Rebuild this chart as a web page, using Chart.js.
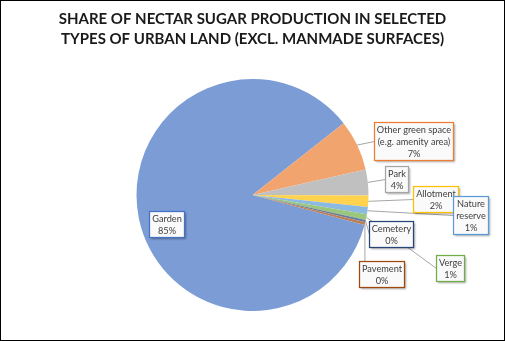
<!DOCTYPE html>
<html>
<head>
<meta charset="utf-8">
<script src="https://cdn.jsdelivr.net/npm/chart.js@4.4.0/dist/chart.umd.min.js"></script>
<style>
    html, body { margin: 0; padding: 0; background: #fff; }
    #marco { width: 503px; height: 339px; border: 1px solid #000; position: relative; }
</style>
</head>
<body>
<div id="marco"><canvas id="grafico-nectar"></canvas></div>
<script>
// Datos del gráfico (porcentaje de azúcar de néctar por tipo de suelo)
const categorias = ['Garden', ['Other green space', '(e.g. amenity area)'], 'Park', 'Allotment',
    ['Nature', 'reserve'], 'Verge', 'Cemetery', 'Pavement'];
const valores = [85.2, 7.1, 3.6, 1.6, 1.0, 0.8, 0.3, 0.4];

// Colores de los sectores y de los bordes de las etiquetas
const coloresSector = ['#7C9CD6', '#F2A46F', '#C0C0C0', '#FFD34D', '#8CB9E2', '#9BC67E', '#677CA1', '#BB7F56'];
const coloresBorde = ['#4472C4', '#ED7D31', '#A5A5A5', '#FFC000', '#5B9BD5', '#70AD47', '#264478', '#9E480E'];

// Desplazamiento de cada etiqueta respecto al centro del gráfico
const posicionEtiqueta = [[-86, 29], [161, -54], [144, -16], [183, 4], [218, 20], [197, 73], [138, 39], [129, 79]];

const fuenteEtiqueta = '9.2px Lato, "Liberation Sans", sans-serif';

// Etiquetas con recuadro y línea guía, al estilo de Excel
const etiquetasPlugin = {
    id: 'etiquetasCallout',
    afterDatasetsDraw(chart) {
        const ctx = chart.ctx;
        const meta = chart.getDatasetMeta(0);
        const total = valores.reduce((a, b) => a + b, 0);
        ctx.save();
        ctx.font = fuenteEtiqueta;

        const cajas = meta.data.map((arco, i) => {
            const p = arco.getProps(['x', 'y', 'startAngle', 'endAngle', 'outerRadius'], true);
            const medio = (p.startAngle + p.endAngle) / 2;
            const ancla = { x: p.x + Math.cos(medio) * p.outerRadius, y: p.y + Math.sin(medio) * p.outerRadius };
            const lineas = [].concat(categorias[i], Math.round(valores[i] / total * 100) + '%');
            const ancho = Math.round(Math.max(...lineas.map(l => ctx.measureText(l).width)) + 5);
            const alto = lineas.length * 12 + 2;
            const cx = p.x + posicionEtiqueta[i][0];
            const cy = p.y + posicionEtiqueta[i][1];
            return { i, ancla, lineas, x0: Math.round(cx - ancho / 2) + 0.5, y0: Math.round(cy - alto / 2) + 0.5, ancho, alto };
        });

        // Líneas guía (debajo de los recuadros)
        ctx.strokeStyle = '#A6A6A6';
        ctx.lineWidth = 1;
        cajas.forEach(c => {
            if (c.i === 0) return;
            let fin;
            if (c.ancla.x >= c.x0 && c.ancla.x <= c.x0 + c.ancho) {
                fin = { x: c.ancla.x, y: c.y0 };
            } else {
                fin = { x: c.x0, y: c.y0 + c.alto / 2 };
            }
            ctx.beginPath();
            ctx.moveTo(c.ancla.x, c.ancla.y);
            ctx.lineTo(fin.x, fin.y);
            ctx.stroke();
        });

        // Recuadros con texto
        cajas.forEach(c => {
            ctx.save();
            ctx.shadowColor = 'rgba(0,0,0,0.35)';
            ctx.shadowBlur = 2;
            ctx.shadowOffsetX = 1.5;
            ctx.shadowOffsetY = 1.5;
            ctx.fillStyle = '#FAFAFA';
            ctx.fillRect(c.x0, c.y0, c.ancho, c.alto);
            ctx.restore();
            ctx.strokeStyle = coloresBorde[c.i];
            ctx.lineWidth = 1.25;
            ctx.strokeRect(c.x0, c.y0, c.ancho, c.alto);
            ctx.fillStyle = '#404040';
            ctx.textAlign = 'center';
            ctx.textBaseline = 'middle';
            c.lineas.forEach((l, k) => {
                ctx.fillText(l, c.x0 + c.ancho / 2, c.y0 + 7.5 + k * 12);
            });
        });
        ctx.restore();
    }
};

const ctx = document.getElementById('grafico-nectar').getContext('2d');
new Chart(ctx, {
    type: 'pie',
    data: {
        labels: categorias,
        datasets: [{
            data: valores,
            backgroundColor: coloresSector,
            borderWidth: 0
        }]
    },
    options: {
        responsive: true,
        maintainAspectRatio: false,
        animation: false,
        rotation: 105,
        layout: { padding: { top: 0, bottom: 29, left: 0, right: 0 } },
        plugins: {
            legend: { display: false },
            tooltip: { enabled: false },
            title: {
                display: true,
                text: ['SHARE OF NECTAR SUGAR PRODUCTION IN SELECTED', 'TYPES OF URBAN LAND (EXCL. MANMADE SURFACES)'],
                color: '#1A1A1A',
                font: { family: 'Lato, "Liberation Sans", sans-serif', size: 15, weight: 'bold', lineHeight: 1.3333 },
                padding: { top: 8, bottom: 30 }
            }
        }
    },
    plugins: [etiquetasPlugin]
});
</script>
</body>
</html>
